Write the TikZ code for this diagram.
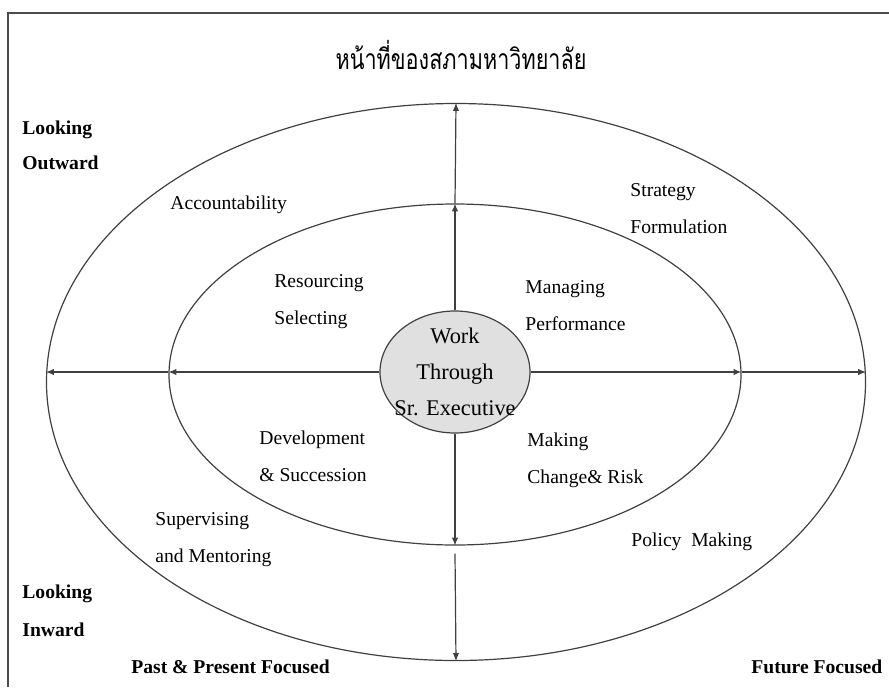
\documentclass[tikz,border=0pt]{standalone}
\usepackage{fontspec}
\setmainfont{Liberation Serif}
\newfontfamily\thaifont[Script=Thai]{Loma}
\usetikzlibrary{shapes.geometric,arrows.meta,calc}

\tikzset{
  lbl/.style={font=\fontsize{9.8}{18.5}\selectfont, inner sep=0pt, anchor=west, align=left},
  side/.style={font=\fontsize{9.8}{17.5}\selectfont\bfseries, inner sep=0pt, anchor=west, align=left},
  ring/.style={draw=black!75, ellipse, line width=0.6pt, inner sep=0pt},
  link/.style={draw=black!75, line width=0.6pt, -{Latex[length=4pt,width=3.2pt]}},
}

\begin{document}
\begin{tikzpicture}[x=0.5pt,y=-0.5pt]
\useasboundingbox (0,0) rectangle (889,687);
\draw [line width=1pt, black!70] (889,13) -- (8,13) -- (8,687);

\node (title) at (461,55) {\scalebox{0.8}[1.05]{\thaifont\fontsize{13.5}{16}\selectfont หน้าที่ของสภามหาวิทยาลัย}};

\node [ring, minimum width=409.5pt, minimum height=278.5pt] (outer) at (456,382) {};
\node [ring, minimum width=286pt, minimum height=170.5pt] (inner) at (455,374.5) {};
\node [ring, fill=black!12, minimum width=75pt, minimum height=61pt] (hub) at (455,372) {};
\node [font=\fontsize{11.2}{18}\selectfont, align=center, inner sep=0pt] (hubtxt) at (hub.center) {Work\\Through\\Sr. Executive};

\node [side] (out) at (22,145) {Looking\\Outward};
\node [side, font=\fontsize{9.8}{19}\selectfont\bfseries] (inw) at (22,611) {Looking\\Inward};
\node [side] (past) at (131,667) {Past \& Present Focused};
\node [side] (future) at (751,667) {Future Focused};

\node [lbl] (acc) at (170,205) {Accountability};
\node [lbl] (strat) at (630,208.5) {Strategy\\Formulation};
\node [lbl] (res) at (274,301.5) {Resourcing\\Selecting};
\node [lbl] (manag) at (525,305.5) {Managing\\Performance};
\node [lbl] (dev) at (259,456) {Development\\\& Succession};
\node [lbl] (making) at (527,460.5) {Making\\Change\& Risk};
\node [lbl] (superv) at (155,539.5) {Supervising\\and Mentoring};
\node [lbl] (policy) at (631,542) {Policy~ Making};

\draw [link] (hub.north) -- (inner.north);
\draw [link] (inner.north) -- (outer.north);
\draw [link] (hub.south) -- (inner.south);
\draw [link] ($(inner.south)+(0,8)$) -- (outer.south);
\draw [link] (hub.west) -- (hub.west -| inner.west);
\draw [link] (hub.west -| inner.west) -- (hub.west -| outer.west);
\draw [link] (hub.east) -- (hub.east -| inner.east);
\draw [link] (hub.east -| inner.east) -- (hub.east -| outer.east);
\end{tikzpicture}
\end{document}
